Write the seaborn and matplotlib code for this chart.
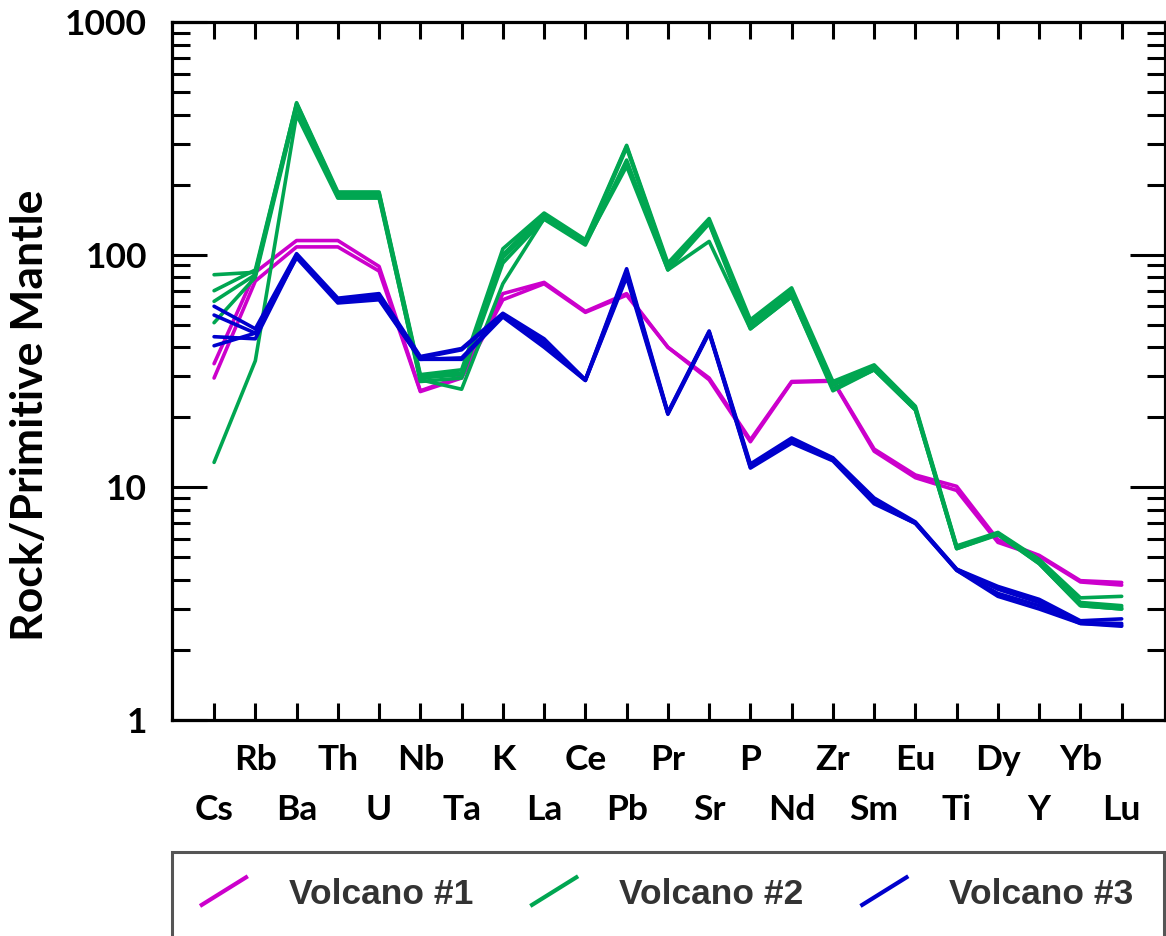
import numpy as np
import pandas as pd
import seaborn as sns
import matplotlib
matplotlib.use("Agg")
import matplotlib.pyplot as plt
from matplotlib.lines import Line2D
from matplotlib.patches import Rectangle
from matplotlib.legend_handler import HandlerBase
from matplotlib.ticker import LogLocator, NullFormatter

# Element order of the primitive-mantle normalised spider diagram
elements = ["Cs", "Rb", "Ba", "Th", "U", "Nb", "Ta", "K", "La", "Ce", "Pb", "Pr",
            "Sr", "P", "Nd", "Zr", "Sm", "Eu", "Ti", "Dy", "Y", "Yb", "Lu"]

# Volcano #1 samples
v1_s1 = [34, 84, 115, 115, 89, 26, 30, 68, 76, 57, 68, 40, 29.5, 16, 28.5, 28.8, 14.6, 11.3, 10.1, 5.95, 5.1, 3.97, 3.9]
v1_s2 = [29.5, 77, 108, 108, 85, 25.8, 29.5, 64, 75, 56.5, 67, 40, 29, 15.7, 28.3, 28.6, 14.3, 11.0, 9.7, 5.8, 5.05, 3.92, 3.8]

# Volcano #2 samples
v2_s1 = [12.8, 35, 400, 175, 175, 29, 26.4, 75, 143, 112, 240, 86, 114, 48, 66, 26, 32, 21.5, 5.45, 6.3, 4.7, 3.1, 3.0]
v2_s2 = [82, 84, 450, 186, 186, 30.5, 32, 106, 151, 116, 295, 92, 143, 52.5, 72, 28.5, 33.6, 22.3, 5.6, 6.4, 4.9, 3.35, 3.4]
v2_s3 = [70, 86, 447, 183, 184, 30, 31, 100, 149, 114, 292, 90, 140, 51, 70, 28, 33, 22, 5.55, 6.35, 4.85, 3.2, 3.1]
v2_s4 = [63, 82, 440, 180, 181, 29.5, 30.5, 97, 146, 112, 288, 88, 137, 50, 68, 27.5, 32.5, 21.8, 5.5, 6.3, 4.8, 3.15, 3.05]
v2_s5 = [51, 80, 430, 178, 178, 28.5, 29.5, 92, 142, 110, 255, 86, 136, 48, 66, 26.5, 32, 21.5, 5.45, 6.25, 4.7, 3.1, 3.0]

# Volcano #3 samples
v3_s1 = [60, 48, 101, 65, 68, 36.5, 39.5, 56, 43.5, 29, 87, 21, 47, 12.6, 16.3, 13.4, 9.0, 7.1, 4.45, 3.75, 3.3, 2.67, 2.72]
v3_s2 = [55, 46, 99, 64, 67, 36, 39, 55.5, 42, 29, 85, 20.8, 46.5, 12.4, 16, 13.3, 8.8, 7.05, 4.45, 3.65, 3.2, 2.62, 2.6]
v3_s3 = [44.4, 43.5, 98, 63, 65, 35.5, 36, 55, 41, 28.8, 82, 20.8, 46.5, 12.2, 15.8, 13.1, 8.6, 7.0, 4.4, 3.5, 3.1, 2.6, 2.56]
v3_s4 = [40.6, 46, 97, 62, 64, 35.5, 35.5, 54, 40, 28.8, 80, 20.6, 46, 12.1, 15.5, 13.0, 8.5, 7.0, 4.4, 3.4, 3.0, 2.6, 2.53]

volcanoes = ["Volcano #1", "Volcano #2", "Volcano #3"]
samples = {
    "Volcano #1": [v1_s1, v1_s2],
    "Volcano #2": [v2_s1, v2_s2, v2_s3, v2_s4, v2_s5],
    "Volcano #3": [v3_s1, v3_s2, v3_s3, v3_s4],
}
colors = {"Volcano #1": "#CC00CC", "Volcano #2": "#00A651", "Volcano #3": "#0000CC"}

rows = []
for v in volcanoes:
    for k, vals in enumerate(samples[v]):
        for i, val in enumerate(vals):
            rows.append({"volcano": v, "sample": f"{v}-{k}", "pos": i, "value": val})
df = pd.DataFrame(rows)

sns.set_style("ticks")
plt.rcParams["font.family"] = ["Lato", "DejaVu Sans"]
plt.rcParams["font.weight"] = "bold"
for key in ("text.color", "axes.labelcolor", "xtick.color", "ytick.color", "axes.edgecolor"):
    plt.rcParams[key] = "black"

fig = plt.figure(figsize=(11.66, 9.36), dpi=100)
ax = fig.add_axes([172 / 1166, 1 - 720 / 936, (1165 - 172) / 1166, (720 - 22) / 936])

sns.lineplot(data=df, x="pos", y="value", hue="volcano", units="sample",
             estimator=None, palette=colors, hue_order=volcanoes,
             lw=2.6, legend=False, ax=ax, sort=False)

ax.set_yscale("log")
ax.set_ylim(1, 1000)
ax.set_xlim(-1.02, 23.05)
ax.set_xlabel("")
ax.set_ylabel("Rock/Primitive Mantle", fontsize=32, fontweight="bold", color="black")
ax.yaxis.set_label_coords((50 - 172) / 993, (720 - 415) / 698)

# Element labels in two staggered rows
upper = list(range(1, len(elements), 2))
lower = list(range(0, len(elements), 2))
ax.set_xticks(upper, [elements[i] for i in upper])
ax.set_xticks(lower, [elements[i] for i in lower], minor=True)

ax.set_yticks([1, 10, 100, 1000], ["1", "10", "100", "1000"])
ax.yaxis.set_minor_locator(LogLocator(base=10, subs=np.arange(2, 10)))
ax.yaxis.set_minor_formatter(NullFormatter())

for s in ax.spines.values():
    s.set_linewidth(2.3)
    s.set_color("black")

ax.tick_params(axis="x", which="both", direction="in", length=12.5, width=2.2,
               top=True, bottom=True, labelsize=25.5, colors="black")
ax.tick_params(axis="x", which="major", pad=17)
ax.tick_params(axis="x", which="minor", pad=53)
ax.tick_params(axis="y", which="major", direction="in", length=25, width=2.2,
               left=True, right=True, labelsize=25.5, pad=18, colors="black")
ax.tick_params(axis="y", which="minor", direction="in", length=13, width=2.2,
               left=True, right=True, colors="black")
for lab in ax.get_xticklabels(which="both") + ax.get_yticklabels():
    lab.set_fontweight("bold")


class DiagonalHandler(HandlerBase):
    def create_artists(self, legend, orig_handle, xdescent, ydescent,
                       width, height, fontsize, trans):
        x0, y0 = -xdescent, -ydescent
        line = Line2D([x0, x0 + width], [y0 - 0.1 * height, y0 + 1.1 * height],
                      color=orig_handle.get_color(), lw=orig_handle.get_linewidth(),
                      solid_capstyle="butt", transform=trans)
        return [line]


handles = [Line2D([], [], color=colors[v], lw=3) for v in volcanoes]
fig.patches.append(Rectangle((172 / 1166, -0.05), (1164 - 172) / 1166, 0.05 + 1 - 852 / 936,
                             transform=fig.transFigure, fill=False,
                             edgecolor="#555555", lw=2.2))
fig.legend(handles, volcanoes, loc="center left",
           bbox_to_anchor=(200 / 1166, 1 - 894 / 936), ncol=3, frameon=False,
           prop={"family": "Liberation Sans", "weight": "bold", "size": 25.5},
           labelcolor="#333333", handlelength=1.35, handletextpad=1.15,
           columnspacing=1.62, borderpad=0, borderaxespad=0,
           handler_map={Line2D: DiagonalHandler()})

fig.savefig("out.png", dpi=100)
